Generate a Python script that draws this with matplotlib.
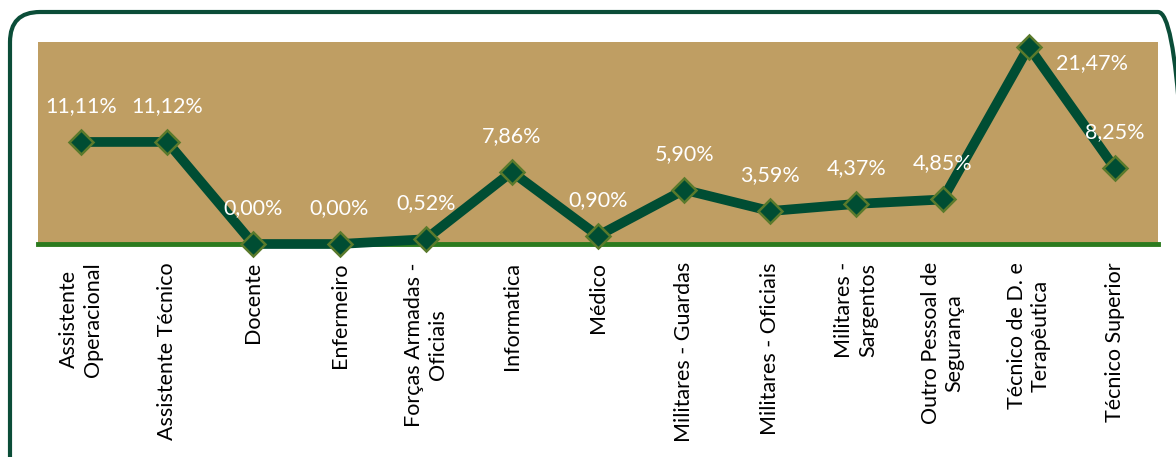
import matplotlib.pyplot as plt
from matplotlib.patches import FancyBboxPatch
from matplotlib.transforms import IdentityTransform

# categories and values (%)
categorias = [
    "Assistente\nOperacional", "Assistente Técnico", "Docente", "Enfermeiro",
    "Forças Armadas -\nOficiais", "Informatica", "Médico", "Militares - Guardas",
    "Militares - Oficiais", "Militares -\nSargentos", "Outro Pessoal de\nSegurança",
    "Técnico de D. e\nTerapêutica", "Técnico Superior",
]
valores = [11.11, 11.12, 0.00, 0.00, 0.52, 7.86, 0.90, 5.90, 3.59, 4.37, 4.85, 21.47, 8.25]
rotulos = ["11,11%", "11,12%", "0,00%", "0,00%", "0,52%", "7,86%", "0,90%",
           "5,90%", "3,59%", "4,37%", "4,85%", "21,47%", "8,25%"]

plt.rcParams['font.family'] = ['Lato', 'DejaVu Sans']

W, H = 1176, 457
fig = plt.figure(figsize=(W / 100, H / 100), dpi=100)

# rounded frame around the chart (pixel coords, origin bottom-left)
frame = FancyBboxPatch((10, -40), 1178, H - 12 + 40,
                       boxstyle="round,pad=0,rounding_size=30",
                       transform=IdentityTransform(), fill=False,
                       edgecolor='#0B4D38', linewidth=3)
fig.patches.append(frame)

ax = fig.add_axes([38 / W, 1 - 244 / H, (1158 - 38) / W, (244 - 42) / H])
ax.set_facecolor('#BF9E63')
x = list(range(len(valores)))
ax.plot(x, valores, color='#004D33', linewidth=7, marker='D', markersize=12,
        markerfacecolor='#004D33', markeredgecolor='#5A7A2C', markeredgewidth=1.8,
        solid_joinstyle='miter', zorder=3, clip_on=False)

ax.set_xlim(-0.5, len(valores) - 0.5)
ax.set_ylim(0, 22)
for s in ['top', 'left', 'right']:
    ax.spines[s].set_visible(False)
ax.spines['bottom'].set_color('#2B7A1E')
ax.spines['bottom'].set_linewidth(3.5)
ax.set_yticks([])
ax.set_xticks(x)
ax.set_xticklabels(categorias, rotation=90, fontsize=15.5, color='black',
                   multialignment='center', linespacing=1.25)
ax.tick_params(axis='x', length=0, pad=13)

for i, (v, r) in enumerate(zip(valores, rotulos)):
    off = (63, -16) if i == 11 else (0, 36)
    ax.annotate(r, (i, v), xytext=off, textcoords='offset pixels',
                ha='center', va='center', color='white', fontsize=15.5, zorder=4)

fig.savefig('out.png', dpi=100)
